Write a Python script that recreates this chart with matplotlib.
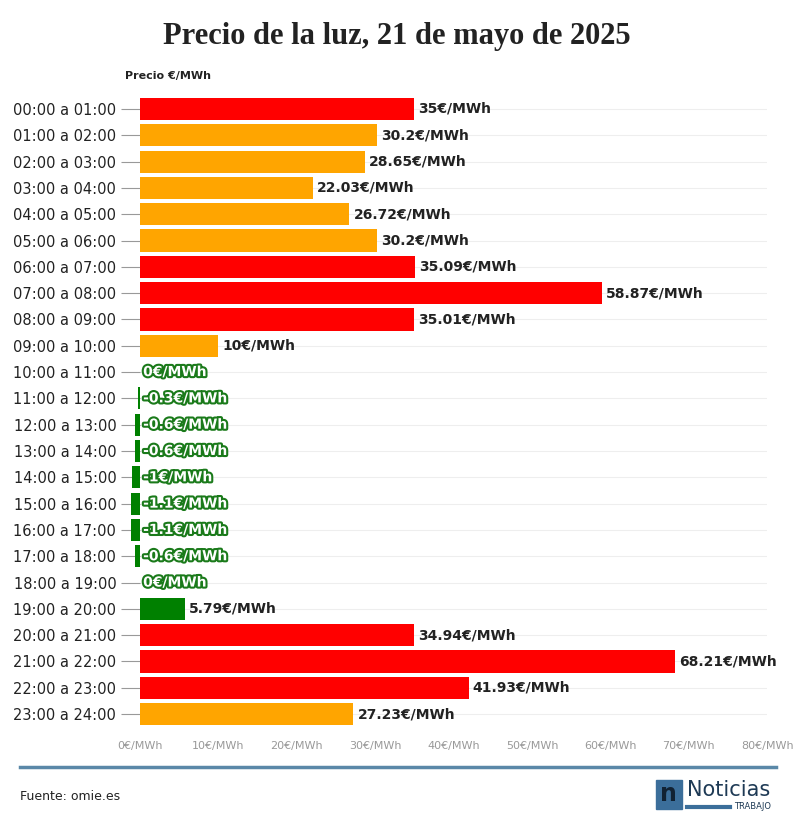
import matplotlib
matplotlib.use("Agg")
import matplotlib.pyplot as plt
import matplotlib.patheffects as pe
from matplotlib.patches import Rectangle

hours = [f"{h:02d}:00 a {h+1:02d}:00" for h in range(24)]
prices = [35, 30.2, 28.65, 22.03, 26.72, 30.2, 35.09, 58.87, 35.01, 10, 0, -0.3, -0.6, -0.6,
          -1, -1.1, -1.1, -0.6, 0, 5.79, 34.94, 68.21, 41.93, 27.23]
labels = ["35", "30.2", "28.65", "22.03", "26.72", "30.2", "35.09", "58.87", "35.01", "10", "0", "-0.3",
          "-0.6", "-0.6", "-1", "-1.1", "-1.1", "-0.6", "0", "5.79", "34.94", "68.21", "41.93", "27.23"]
xticks = [0, 10, 20, 30, 40, 50, 60, 70, 80]

cols = []
for p in prices:
    if p < 10:
        cols.append("#008000")
    elif p >= 34:
        cols.append("#ff0000")
    else:
        cols.append("#ffa500")

fig = plt.figure(figsize=(7.94, 8.19), dpi=100)
ax = fig.add_axes([0.1763, 0.112, 0.79, 0.771])
y = list(range(24))
bars = ax.barh(y, prices, height=0.84, color=cols, zorder=3)
for b in bars:
    b.set_clip_on(False)
ax.set_ylim(23.5, -0.5)
ax.set_xlim(0, 80)
ax.set_yticks(y)
ax.set_yticklabels(hours, fontsize=10.5, color="#222")
ax.tick_params(axis="y", length=14, color="#999", pad=3)
ax.set_xticks(xticks)
ax.set_xticklabels([f"{v}€/MWh" for v in xticks], fontsize=8, color="#999")
ax.tick_params(axis="x", length=0, pad=10)
for s in ax.spines.values():
    s.set_visible(False)
for yy in y:
    ax.axhline(yy, color="#eeeeee", lw=0.8, zorder=1)
for yy, p, l in zip(y, prices, labels):
    t = f"{l}€/MWh"
    if p < 5:
        ax.text(max(p, 0) + 0.4, yy, t, va="center", ha="left", fontsize=10, fontweight="bold",
                color="white", zorder=5,
                path_effects=[pe.withStroke(linewidth=3, foreground="#1a7a1a")])
    else:
        ax.text(p + 0.5, yy, t, va="center", ha="left", fontsize=10, fontweight="bold",
                color="#222", zorder=5, clip_on=False)
fig.text(0.5, 0.955, "Precio de la luz, 21 de mayo de 2025", ha="center", va="center",
         fontsize=22, fontweight="bold", family="Liberation Serif", color="#222")
fig.text(0.157, 0.904, "Precio €/MWh", fontsize=8, fontweight="bold", color="#222")
fig.add_artist(plt.Line2D([0.025, 0.977], [0.063, 0.063], color="#5a88a8", lw=2.5))
fig.text(0.025, 0.027, "Fuente: omie.es", fontsize=9, color="#222", va="center")
fig.add_artist(Rectangle((0.826, 0.012), 0.033, 0.036, color="#3b6e9a", transform=fig.transFigure))
fig.text(0.831, 0.03, "n", fontsize=17, color="#123", fontweight="bold", va="center")
fig.text(0.865, 0.035, "Noticias", fontsize=15, color="#1e3a55", va="center")
fig.add_artist(plt.Line2D([0.865, 0.92], [0.015, 0.015], color="#3b6e9a", lw=3))
fig.text(0.925, 0.015, "TRABAJO", fontsize=6, color="#1e3a55", va="center")
fig.savefig("out.png", dpi=100, facecolor="white")
